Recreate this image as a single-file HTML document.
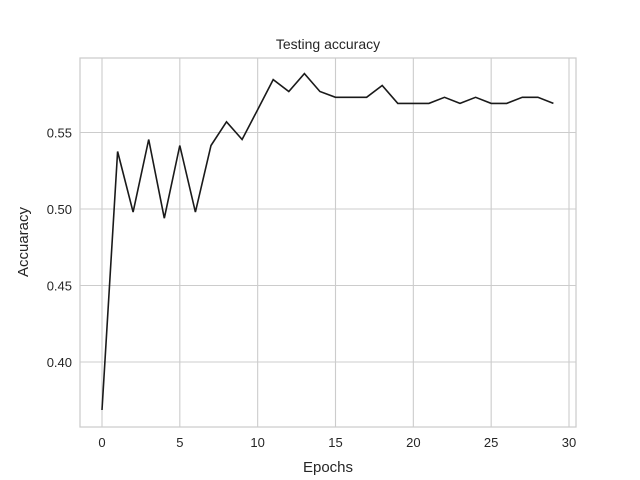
<!DOCTYPE html>
<html><head><meta charset="utf-8"><style>
body{margin:0;background:#fff;}
svg{display:block;font-family:"Liberation Sans","DejaVu Sans",sans-serif;}
</style></head><body>
<svg id="chart" width="640" height="480">
<rect x="0" y="0" width="640" height="480" fill="#fff"/>
<g id="grid"></g>
<rect x="80" y="58" width="496" height="369" fill="none" stroke="#ccc" stroke-width="1.25"/>
<g id="ticks"></g>
<path id="line" fill="none" stroke="#1a1a1a" stroke-width="1.6"/>
<text x="328" y="49" text-anchor="middle" font-size="14" fill="#262626">Testing accuracy</text>
<text x="328" y="472" text-anchor="middle" font-size="15" fill="#262626">Epochs</text>
<text x="28" y="242" text-anchor="middle" font-size="15" fill="#262626" transform="rotate(-90 28 242)">Accuaracy</text>
</svg>
<script>
const epochs=[0,1,2,3,4,5,6,7,8,9,10,11,12,13,14,15,16,17,18,19,20,21,22,23,24,25,26,27,28,29];
const accuracy=[0.3686,0.5376,0.498,0.5454,0.494,0.5415,0.498,0.5415,0.557,0.5454,0.565,0.5846,0.5768,0.5885,0.5768,0.573,0.573,0.573,0.5807,0.569,0.569,0.569,0.573,0.569,0.573,0.569,0.569,0.573,0.573,0.569];
const xTicks=[0,5,10,15,20,25,30];
const yTicks=[0.40,0.45,0.50,0.55];
const xs=v=>102+v*(569-102)/30;
const ys=v=>362-(v-0.40)*1530;
const NS="http://www.w3.org/2000/svg";
const grid=document.getElementById('grid'),ticks=document.getElementById('ticks');
function mk(tag,attrs,parent){const e=document.createElementNS(NS,tag);for(const k in attrs)e.setAttribute(k,attrs[k]);parent.appendChild(e);return e;}
xTicks.forEach(t=>{
 const g=mk('line',{x1:xs(t),x2:xs(t),y1:58,y2:427,stroke:'#ccc','stroke-width':1.1},grid);
 
 
 const l=mk('text',{x:xs(t),y:447,'text-anchor':'middle','font-size':13,fill:'#262626'},ticks);
 l.textContent=t;
 
 
});
yTicks.forEach(t=>{
 const g=mk('line',{x1:80,x2:576,y1:ys(t),y2:ys(t),stroke:'#ccc','stroke-width':1.1},grid);
 
 
 const l=mk('text',{x:72,y:ys(t)+5,'text-anchor':'end','font-size':13,fill:'#262626'},ticks);
 l.textContent=t.toFixed(2);
 
 
});
document.getElementById('line').setAttribute('d',epochs.map((e,i)=>(i?'L':'M')+xs(e).toFixed(1)+','+ys(accuracy[i]).toFixed(1)).join(' '));
</script>
</body></html>
